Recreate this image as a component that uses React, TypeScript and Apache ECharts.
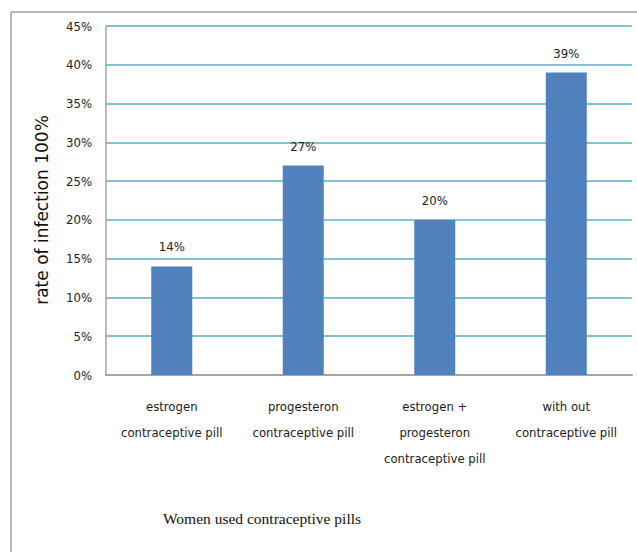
import React, { useEffect, useRef } from "react";
import * as echarts from "echarts";

const categories = [
  "estrogen\ncontraceptive pill",
  "progesteron\ncontraceptive pill",
  "estrogen +\nprogesteron\ncontraceptive pill",
  "with out\ncontraceptive pill",
];
const values = [14, 27, 20, 39];
const yTicks = { min: 0, max: 45, interval: 5 };
const yTitle = "rate of infection 100%";
const xTitle = "Women used contraceptive pills";

const narrow = "'DejaVu Sans Condensed', 'Liberation Sans Narrow', 'Liberation Sans', sans-serif";

export default function App() {
  const ref = useRef<HTMLDivElement>(null);
  useEffect(() => {
    if (!ref.current) return;
    const chart = echarts.init(ref.current, undefined, { renderer: "svg" });
    chart.setOption({
      animation: false,
      backgroundColor: "#ffffff",
      grid: { left: 106, right: 5, top: 26, bottom: 177, containLabel: false },
      xAxis: {
        type: "category",
        data: categories,
        axisLine: { show: true, lineStyle: { color: "#a6a6a6", width: 2 } },
        axisTick: { show: false },
        axisLabel: {
          interval: 0,
          margin: 18,
          fontFamily: narrow,
          fontSize: 13,
          color: "#222",
          lineHeight: 26,
        },
      },
      yAxis: {
        type: "value",
        min: yTicks.min,
        max: yTicks.max,
        interval: yTicks.interval,
        axisLine: { show: true, lineStyle: { color: "#a6a6a6", width: 1.5 } },
        axisTick: { show: false },
        splitLine: { show: true, lineStyle: { color: "#80c2d8", width: 2 } },
        axisLabel: {
          formatter: "{value}%",
          margin: 14,
          fontFamily: narrow,
          fontSize: 13,
          color: "#222",
        },
      },
      series: [
        {
          type: "bar",
          data: values,
          barWidth: 41,
          itemStyle: { color: "#4f81bd" },
          label: {
            show: true,
            position: "top",
            distance: 13,
            formatter: "{c}%",
            fontFamily: narrow,
            fontSize: 13,
            color: "#222",
          },
        },
      ],
      graphic: [
        {
          type: "line",
          shape: { x1: 11, y1: 12, x2: 637, y2: 12 },
          style: { stroke: "#a0a0a0", lineWidth: 1.5 },
        },
        {
          type: "line",
          shape: { x1: 11, y1: 12, x2: 11, y2: 552 },
          style: { stroke: "#a0a0a0", lineWidth: 1.5 },
        },
        {
          type: "text",
          x: 42,
          y: 210,
          rotation: Math.PI / 2,
          style: {
            text: yTitle,
            fontFamily: "'DejaVu Sans', Verdana, sans-serif",
            fontSize: 17,
            fill: "#111",
            align: "center",
            verticalAlign: "middle",
          },
        },
        {
          type: "text",
          x: 262,
          y: 518,
          style: {
            text: xTitle,
            fontFamily: "'Liberation Serif', 'Times New Roman', serif",
            fontSize: 15.5,
            fill: "#111",
            align: "center",
            verticalAlign: "middle",
          },
        },
      ],
    });
    return () => chart.dispose();
  }, []);
  return (
    <div
      ref={ref}
      style={{ position: "absolute", left: 0, top: 0, width: 637, height: 552 }}
    />
  );
}
